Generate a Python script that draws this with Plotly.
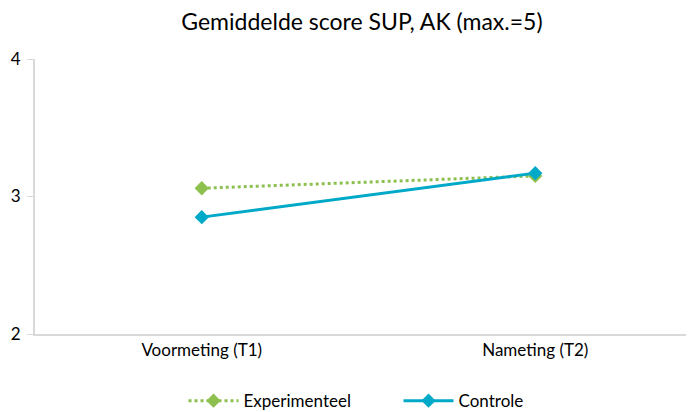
import plotly.graph_objects as go

momenten = ['Voormeting (T1)', 'Nameting (T2)']
experimenteel = [3.06, 3.15]
controle = [2.85, 3.17]

fig = go.Figure()
fig.add_trace(go.Scatter(x=momenten, y=experimenteel, name='Experimenteel', mode='lines+markers',
                         line=dict(color='#8DC04F', width=3, dash='dot'),
                         marker=dict(symbol='diamond', size=11, color='#8DC04F')))
fig.add_trace(go.Scatter(x=momenten, y=controle, name='Controle', mode='lines+markers',
                         line=dict(color='#00A9C8', width=3),
                         marker=dict(symbol='diamond', size=11, color='#00A9C8')))

# the page adds an 8px body margin, so the plot area is pulled up/left by 8px
fig.update_layout(
    width=694, height=412,
    title=dict(text='Gemiddelde score SUP, AK (max.=5)', x=0.51, xanchor='center',
               y=0.965, yanchor='middle', font=dict(size=23, color='#000000')),
    font=dict(family='Lato, sans-serif', size=17, color='#000000'),
    plot_bgcolor='white', paper_bgcolor='white',
    margin=dict(l=27, r=0, t=51, b=86, autoexpand=False),
    legend=dict(orientation='h', x=0.545, xanchor='center', y=-0.244, yanchor='middle',
                font=dict(size=17), traceorder='normal', itemwidth=50, entrywidth=150),
)
fig.update_xaxes(type='category', range=[-0.5, 1.5], showgrid=False, showline=True,
                 linecolor='#D9D9D9', linewidth=2, ticks='', tickfont=dict(size=17),
                 automargin=False)
fig.update_yaxes(range=[2, 4], tickvals=[2, 3, 4], showgrid=False, showline=True,
                 linecolor='#D9D9D9', linewidth=2, ticks='outside', ticklen=6,
                 tickcolor='#D9D9D9', tickfont=dict(size=17), zeroline=False,
                 ticklabelstandoff=3, automargin=False)

fig.write_html("out.html")
